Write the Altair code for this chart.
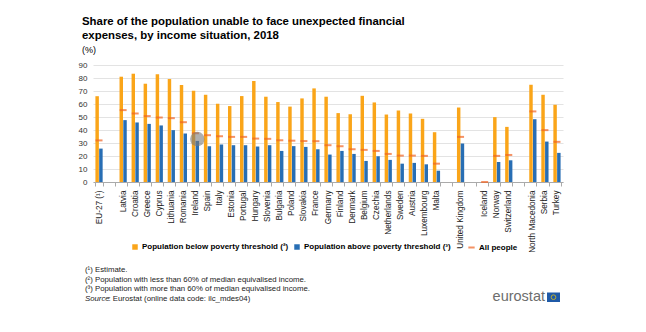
import altair as alt
import pandas as pd

countries = ["EU-27 (¹)", " ", "Latvia", "Croatia", "Greece", "Cyprus", "Lithuania", "Romania",
             "Ireland", "Spain", "Italy", "Estonia", "Portugal", "Hungary", "Slovenia",
             "Bulgaria", "Poland", "Slovakia", "France", "Germany", "Finland", "Denmark",
             "Belgium", "Czechia", "Netherlands", "Sweden", "Austria", "Luxembourg", "Malta",
             "  ", "United Kingdom", "   ", "Iceland", "Norway", "Switzerland", "    ",
             "North Macedonia", "Serbia", "Turkey"]
below = [66, None, 81, 83.3, 75.6, 82.8, 79.2, 74.6, 70.2, 67.1, 60.2, 58.4, 66.1, 77.7, 65.6,
         61.5, 58, 64.3, 72, 65.6, 53, 52.2, 66.3, 61.2, 51.9, 55, 52.7, 48.6, 38.3,
         None, 57.3, None, None, 49.9, 42.4, None, 74.8, 67.1, 59.4]
above = [25.7, None, 47.6, 45.8, 44.7, 43.5, 39.9, 37.3, 31.6, 27.5, 28.8, 28.3, 28.3, 27.3, 28.3,
         23.9, 27.6, 27, 25.2, 21.1, 23.9, 21.6, 16.2, 19.8, 17, 14.1, 14.7, 13.6, 8.7,
         None, 29.6, None, None, 15.4, 16.7, None, 48.3, 31.1, 22.4]
all_people = [32, None, 55.3, 52.7, 50.7, 49.6, 49.1, 46, 37.5, 36, 35.2, 34.7, 34.7, 33.4, 33.2,
              32.1, 31.8, 31.5, 31.4, 28.3, 27.5, 25.2, 24.7, 23.9, 21.6, 20.3, 20.3, 20.1, 14.1,
              None, 34.7, None, 0, 20.1, 20.8, None, 54.3, 39.9, 30.9]

s_below = "Population below poverty threshold (²)"
s_above = "Population above poverty threshold (³)"
s_all = "All people"
highlight_country = ["Ireland"]
highlight_value = [33]

title_lines = ["Share of the population unable to face unexpected financial",
               "expenses, by income situation, 2018"]
unit_label = "(%)"
notes = ["(¹) Estimate.",
         "(²) Population with less than 60% of median equivalised income.",
         "(³) Population with more than 60% of median equivalised income."]
source_italic = "Source"
source_rest = ": Eurostat (online data code: ilc_mdes04)"
logo_text = "eurostat"
y_ticks = [0, 10, 20, 30, 40, 50, 60, 70, 80, 90]

ORANGE = "#FAA519"
BLUE = "#286EB4"
RED = "#F06423"
FONT = "Liberation Sans"

rows = []
for c, b, a in zip(countries, below, above):
    if b is not None:
        rows.append({"country": c, "series": s_below, "value": b})
    if a is not None:
        rows.append({"country": c, "series": s_above, "value": a})
bars_df = pd.DataFrame(rows)
ticks_df = pd.DataFrame([{"country": c, "line": s_all, "value": v}
                         for c, v in zip(countries, all_people) if v is not None])
hl_df = pd.DataFrame({"country": highlight_country, "series": [s_above], "value": highlight_value})

xscale = alt.Scale(domain=countries, paddingInner=0.4, paddingOuter=0.2)
yscale = alt.Scale(domain=[0, 90], nice=False)

xaxis = alt.Axis(title=None, labelAngle=270, labelAlign="right", labelBaseline="middle",
                 labelFontSize=8.2, labelFont=FONT, labelColor="#222", labelPadding=4,
                 tickBand="extent", tickSize=4, tickColor="#aaaaaa", domainColor="#aaaaaa",
                 grid=False, labelLimit=0, labelOverlap=False)
yaxis = alt.Axis(title=None, values=y_ticks, domain=False, ticks=False,
                 labelFontSize=8, labelFont=FONT, labelColor="#333", labelPadding=6,
                 gridColor="#e3e3e3", gridWidth=1, labelOverlap=False)

X = alt.X("country:N", scale=xscale, axis=xaxis, sort=countries)
Y = alt.Y("value:Q", scale=yscale, axis=yaxis)
XOFF = alt.XOffset("series:N", scale=alt.Scale(domain=[s_below, s_above], paddingInner=0.08))

bars = alt.Chart(bars_df).mark_bar().encode(
    x=X, xOffset=XOFF, y=Y,
    color=alt.Color("series:N", scale=alt.Scale(domain=[s_below, s_above], range=[ORANGE, BLUE]),
                    legend=alt.Legend(title=None, orient="none", legendX=38, legendY=178,
                                      direction="horizontal", symbolType="square", symbolSize=30,
                                      labelFontSize=8, labelFont=FONT, labelFontWeight="bold",
                                      labelColor="#000", labelLimit=0, columnPadding=4,
                                      labelOffset=3, padding=0)),
)

ticks = alt.Chart(ticks_df).mark_tick(size=7, thickness=2).encode(
    x=X, y=Y,
    color=alt.Color("line:N", scale=alt.Scale(domain=[s_all], range=[RED]),
                    legend=alt.Legend(title=None, orient="none", legendX=374, legendY=178,
                                      direction="horizontal", symbolType="stroke", symbolSize=40,
                                      symbolStrokeWidth=2, symbolStrokeColor=RED,
                                      labelFontSize=8, labelFont=FONT, labelFontWeight="bold",
                                      labelColor="#000", labelLimit=0, labelOffset=3, padding=0)),
)

hl = alt.Chart(hl_df).mark_point(filled=True, size=210, color="#7a7a7a", opacity=0.6).encode(
    x=X, xOffset=XOFF, y=Y,
)


def text_layer(txt, x, y, size=8, weight="normal", style="normal", color="#000", align="left"):
    return alt.Chart(pd.DataFrame({"t": [txt]})).mark_text(
        align=align, baseline="alphabetic", font=FONT, fontSize=size, fontWeight=weight,
        fontStyle=style, color=color, clip=False
    ).encode(x=alt.value(x), y=alt.value(y), text="t:N")


texts = [
    text_layer(title_lines[0], -11, -40, size=11.4, weight="bold"),
    text_layer(title_lines[1], -11, -26, size=11.4, weight="bold"),
    text_layer(unit_label, -11, -12, size=9),
    text_layer(notes[0], -8, 207, size=7.8, color="#222"),
    text_layer(notes[1], -8, 216.5, size=7.8, color="#222"),
    text_layer(notes[2], -8, 226, size=7.8, color="#222"),
    text_layer(source_italic, -8, 236, size=7.8, style="italic", color="#222"),
    text_layer(source_rest, 15.5, 236, size=7.8, color="#222"),
    text_layer(logo_text, 452, 236, size=14.5, color="#6d6d6d", align="right"),
]

flag = alt.Chart(pd.DataFrame({"a": [1]})).mark_rect(color="#1f5aa8").encode(
    x=alt.value(454), x2=alt.value(467), y=alt.value(227.5), y2=alt.value(237))
ring = alt.Chart(pd.DataFrame({"a": [1]})).mark_point(size=22, color="#ffd200", strokeWidth=1).encode(
    x=alt.value(460.5), y=alt.value(232.2))

chart = alt.layer(bars, ticks, hl, *texts, flag, ring).resolve_scale(color="independent").properties(
    width=470, height=117,
    padding={"left": 93, "top": 65, "right": 83, "bottom": 150},
    autosize=alt.AutoSizeParams(type="none"),
).configure_view(stroke=None)

chart.save("out.html", embed_options={"renderer": "svg", "actions": False})
